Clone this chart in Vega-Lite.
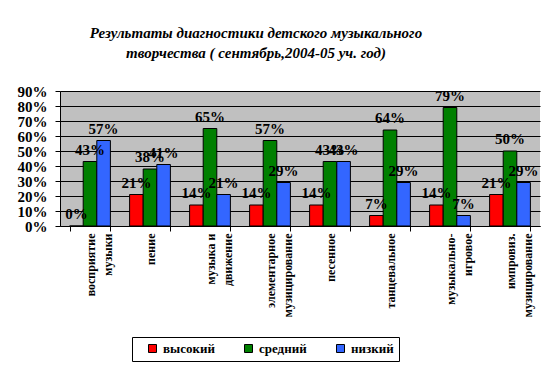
{
  "$schema": "https://vega.github.io/schema/vega-lite/v6.json",
  "width": 480,
  "height": 135,
  "autosize": {"type": "none"},
  "padding": {"left": 60, "top": 91, "right": 15, "bottom": 141},
  "background": "white",
  "title": {
    "text": ["Результаты диагностики детского музыкального", "творчества ( сентябрь,2004-05 уч. год)"],
    "font": "Liberation Serif",
    "fontSize": 15,
    "fontStyle": "italic",
    "fontWeight": "bold",
    "color": "black",
    "anchor": "middle",
    "frame": "group",
    "dx": -44,
    "offset": 23,
    "lineHeight": 20
  },
  "data": {
    "values": [
      {"category": "восприятие музыки", "level": "высокий", "value": 0},
      {"category": "восприятие музыки", "level": "средний", "value": 0.43},
      {"category": "восприятие музыки", "level": "низкий", "value": 0.57},
      {"category": "пение", "level": "высокий", "value": 0.21},
      {"category": "пение", "level": "средний", "value": 0.38},
      {"category": "пение", "level": "низкий", "value": 0.41},
      {"category": "музыка и движение", "level": "высокий", "value": 0.14},
      {"category": "музыка и движение", "level": "средний", "value": 0.65},
      {"category": "музыка и движение", "level": "низкий", "value": 0.21},
      {"category": "элементарное музицирование", "level": "высокий", "value": 0.14},
      {"category": "элементарное музицирование", "level": "средний", "value": 0.57},
      {"category": "элементарное музицирование", "level": "низкий", "value": 0.29},
      {"category": "песенное", "level": "высокий", "value": 0.14},
      {"category": "песенное", "level": "средний", "value": 0.43},
      {"category": "песенное", "level": "низкий", "value": 0.43},
      {"category": "танцевальное", "level": "высокий", "value": 0.07},
      {"category": "танцевальное", "level": "средний", "value": 0.64},
      {"category": "танцевальное", "level": "низкий", "value": 0.29},
      {"category": "музыкально-игровое", "level": "высокий", "value": 0.14},
      {"category": "музыкально-игровое", "level": "средний", "value": 0.79},
      {"category": "музыкально-игровое", "level": "низкий", "value": 0.07},
      {"category": "импровиз. музицирование", "level": "высокий", "value": 0.21},
      {"category": "импровиз. музицирование", "level": "средний", "value": 0.50},
      {"category": "импровиз. музицирование", "level": "низкий", "value": 0.29}
    ]
  },
  "encoding": {
    "x": {
      "field": "category",
      "type": "nominal",
      "sort": null,
      "scale": {"paddingInner": 0.32, "paddingOuter": 0.16},
      "axis": {
        "title": null,
        "tickBand": "extent",
        "tickSize": 5,
        "tickColor": "black",
        "domainColor": "black",
        "labelAngle": -90,
        "labelAlign": "right",
        "labelBaseline": "middle",
        "labelFont": "Liberation Serif",
        "labelFontWeight": "bold",
        "labelFontSize": 12,
        "labelLineHeight": 17,
        "labelPadding": 2,
        "labelColor": "black",
        "labelOverlap": false,
        "labelExpr": "datum.label == 'музыка и движение' ? ['музыка и', 'движение'] : datum.label == 'музыкально-игровое' ? ['музыкально-', 'игровое'] : split(datum.label, ' ')"
      }
    },
    "xOffset": {
      "field": "level",
      "type": "nominal",
      "sort": ["высокий", "средний", "низкий"],
      "scale": {"paddingInner": 0, "paddingOuter": 0}
    },
    "y": {
      "field": "value",
      "type": "quantitative",
      "scale": {"domain": [0, 0.9], "nice": false},
      "axis": {
        "title": null,
        "values": [0, 0.1, 0.2, 0.3, 0.4, 0.5, 0.6, 0.7, 0.8, 0.9],
        "format": ".0%",
        "grid": true,
        "gridColor": "black",
        "gridOpacity": 1,
        "gridWidth": 1,
        "tickColor": "black",
        "tickSize": 5,
        "domainColor": "black",
        "labelFont": "Liberation Serif",
        "labelFontWeight": "bold",
        "labelFontSize": 15,
        "labelPadding": 8,
        "labelColor": "black",
        "labelOverlap": false,
        "labelFlush": false,
        "labelBaseline": "middle"
      }
    }
  },
  "layer": [
    {
      "mark": {"type": "bar", "stroke": "black", "strokeWidth": 1},
      "encoding": {
        "color": {
          "field": "level",
          "type": "nominal",
          "sort": ["высокий", "средний", "низкий"],
          "scale": {"domain": ["высокий", "средний", "низкий"], "range": ["#ff0000", "#008000", "#3366ff"]},
          "legend": {
            "orient": "none",
            "legendX": 72,
            "legendY": 246,
            "direction": "horizontal",
            "title": null,
            "symbolType": "square",
            "symbolSize": 64,
            "symbolStrokeColor": "black",
            "symbolStrokeWidth": 1,
            "symbolOpacity": 1,
            "labelFont": "Liberation Serif",
            "labelFontWeight": "bold",
            "labelFontSize": 13,
            "labelColor": "black",
            "strokeColor": "black",
            "fillColor": "white",
            "padding": 5,
            "columnPadding": 18,
            "gridAlign": "none",
            "symbolOffset": 9
          }
        }
      }
    },
    {
      "mark": {"type": "text", "dy": -12, "font": "Liberation Serif", "fontSize": 15, "fontWeight": "bold", "baseline": "middle", "color": "black"},
      "encoding": {
        "text": {"field": "value", "type": "quantitative", "format": ".0%"}
      }
    }
  ],
  "config": {"view": {"fill": "#c0c0c0", "stroke": null}}
}
